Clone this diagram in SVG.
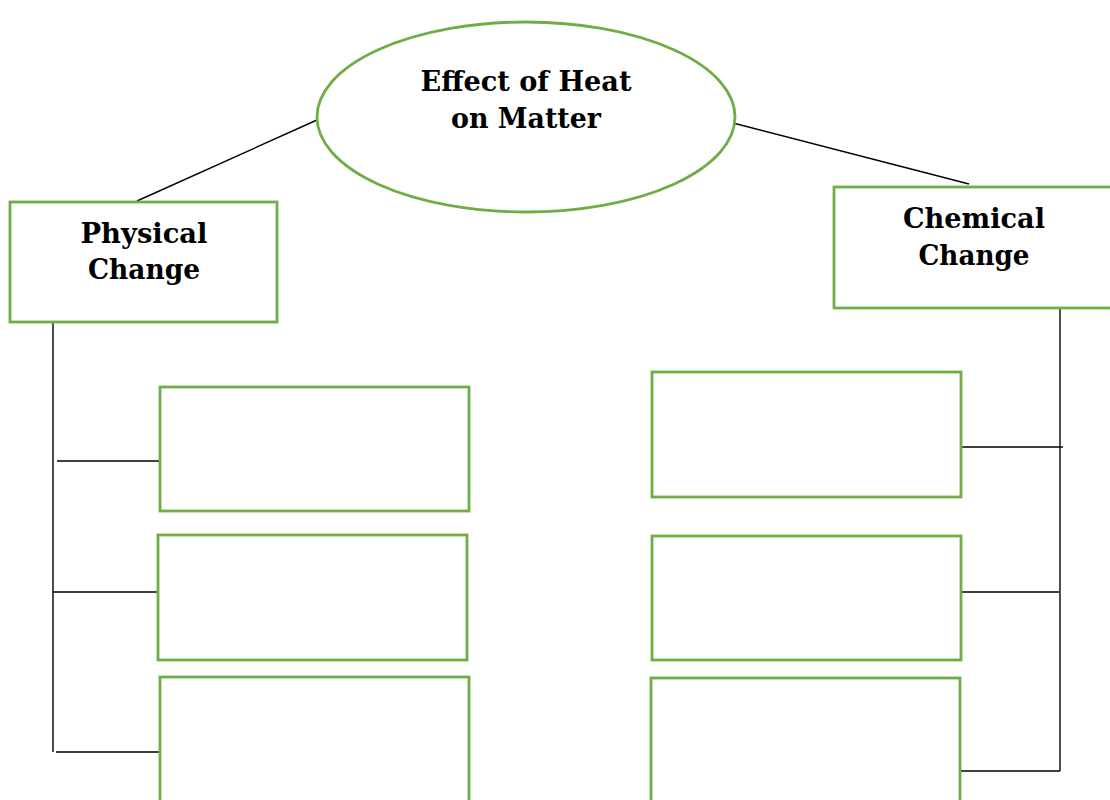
<svg xmlns="http://www.w3.org/2000/svg" width="1110" height="800" viewBox="0 0 1110 800">
  <style>
    .box { fill: #ffffff; stroke: #70ad47; stroke-width: 2.8; }
    .link { stroke: #000000; stroke-width: 1.4; fill: none; }
    .label { font-family: "DejaVu Serif", "Liberation Serif", serif; font-weight: bold; fill: #000000; text-anchor: middle; }
  </style>
  <rect width="1110" height="800" fill="#ffffff"/>

  <!-- connectors -->
  <g id="connectors">
    <line class="link" x1="317" y1="120" x2="137" y2="201"/>
    <line class="link" x1="733" y1="123" x2="969" y2="184"/>
    <line class="link" x1="53" y1="322" x2="53" y2="752"/>
    <line class="link" x1="57" y1="461" x2="159" y2="461"/>
    <line class="link" x1="53" y1="592" x2="157" y2="592"/>
    <line class="link" x1="56" y1="752" x2="160" y2="752"/>
    <line class="link" x1="1060" y1="308" x2="1060" y2="771"/>
    <line class="link" x1="962" y1="447" x2="1063" y2="447"/>
    <line class="link" x1="961" y1="592" x2="1059" y2="592"/>
    <line class="link" x1="956" y1="771" x2="1060" y2="771"/>
  </g>

  <!-- central topic -->
  <g id="topic">
    <ellipse class="box" cx="526" cy="117" rx="209" ry="95"/>
    <text class="label" x="526" y="91" font-size="28" textLength="211" lengthAdjust="spacingAndGlyphs">Effect of Heat</text>
    <text class="label" x="526" y="128" font-size="28" textLength="150" lengthAdjust="spacingAndGlyphs">on Matter</text>
  </g>

  <!-- branches -->
  <g id="physical">
    <rect class="box" x="10" y="202" width="267" height="120"/>
    <text class="label" x="144" y="243" font-size="28" textLength="127" lengthAdjust="spacingAndGlyphs">Physical</text>
    <text class="label" x="144" y="279" font-size="28" textLength="112" lengthAdjust="spacingAndGlyphs">Change</text>
  </g>
  <g id="chemical">
    <rect class="box" x="834" y="187" width="280" height="121"/>
    <text class="label" x="974" y="228" font-size="28" textLength="142" lengthAdjust="spacingAndGlyphs">Chemical</text>
    <text class="label" x="974" y="265" font-size="28" textLength="111" lengthAdjust="spacingAndGlyphs">Change</text>
  </g>

  <!-- empty answer boxes, physical side -->
  <g id="physical-1"><rect class="box" x="160" y="387" width="309" height="124"/></g>
  <g id="physical-2"><rect class="box" x="158" y="535" width="309" height="125"/></g>
  <g id="physical-3"><rect class="box" x="160" y="677" width="309" height="140"/></g>

  <!-- empty answer boxes, chemical side -->
  <g id="chemical-1"><rect class="box" x="652" y="372" width="309" height="125"/></g>
  <g id="chemical-2"><rect class="box" x="652" y="536" width="309" height="124"/></g>
  <g id="chemical-3"><rect class="box" x="651" y="678" width="309" height="140"/></g>
</svg>
